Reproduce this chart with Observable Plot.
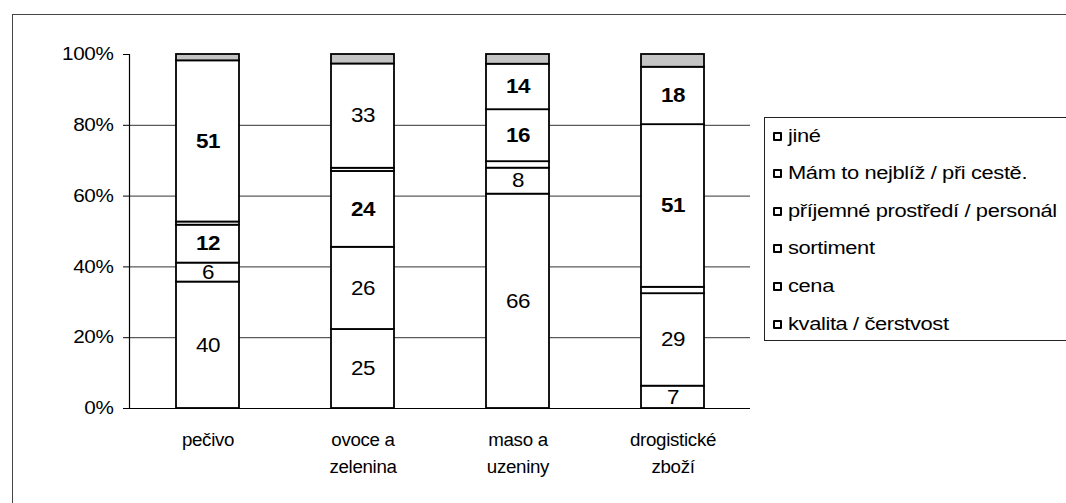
<!DOCTYPE html>
<html>
<head>
<meta charset="utf-8">
<script src="https://cdn.jsdelivr.net/npm/d3@7"></script>
<script src="https://cdn.jsdelivr.net/npm/@observablehq/plot@0.6"></script>
<style>
  html, body { margin: 0; padding: 0; background: #fff; overflow: hidden; }
  #wrap { position: relative; width: 1066px; height: 503px; overflow: hidden;
          font-family: "Liberation Sans", Arial, sans-serif; color: #000; }
  #frame { position: absolute; left: 12px; top: 14px; width: 1200px; height: 700px;
           border: 1px solid #444; box-sizing: border-box; pointer-events: none; }
  #chart { position: absolute; left: 0; top: 0; }
  #legend { position: absolute; left: 764px; top: 117px; width: 400px; height: 224px;
            border: 1px solid #222; box-sizing: border-box; background: #fff; }
  .item { position: absolute; left: 8px; height: 20px; display: flex; align-items: center;
          white-space: nowrap; font-size: 17.5px; letter-spacing: -0.3px; }
  .swatch { width: 9px; height: 9px; border: 2px solid #000; border-radius: 1px;
            box-sizing: border-box; background: #fff; margin-right: 6px; flex: none; }
  .label { display: inline-block; transform: scaleX(1.25); transform-origin: left center; }
</style>
</head>
<body>
<div id="wrap">
  <div id="frame"></div>
  <div id="chart"></div>
  <div id="legend"></div>
</div>
<script>
// Categories on the bottom axis and their wrapped tick labels
const categories = ["pečivo", "ovoce a zelenina", "maso a uzeniny", "drogistické zboží"];
const tickLabels = ["pečivo", "ovoce a\nzelenina", "maso a\nuzeniny", "drogistické\nzboží"];

// Reasons, stacked from the bottom up
const seriesNames = [
  "kvalita / čerstvost",
  "cena",
  "sortiment",
  "příjemné prostředí / personál",
  "Mám to nejblíž / při cestě.",
  "jiné"
];

// Answer counts per category (same order as categories)
const kvalita   = [40, 25, 66, 7];
const cena      = [6, 26, 8, 29];
const sortiment = [12, 24, 2, 2];
const prostredi = [1, 1, 16, 51];
const nejbliz   = [51, 33, 14, 18];
const jine      = [2, 3, 3, 4];

const yTicks = [0, 0.2, 0.4, 0.6, 0.8, 1];
const gridTicks = [0.2, 0.4, 0.6, 0.8];

const seriesValues = [kvalita, cena, sortiment, prostredi, nejbliz, jine];

const rows = [];
categories.forEach((c, i) => {
  seriesValues.forEach((vals, j) => {
    rows.push({category: c, series: seriesNames[j], value: vals[i]});
  });
});

// Labels printed in bold
const boldKeys = new Set([
  "pečivo|sortiment", "pečivo|Mám to nejblíž / při cestě.",
  "ovoce a zelenina|sortiment",
  "maso a uzeniny|příjemné prostředí / personál", "maso a uzeniny|Mám to nejblíž / při cestě.",
  "drogistické zboží|příjemné prostředí / personál", "drogistické zboží|Mám to nejblíž / při cestě."
]);
const isBold = d => boldKeys.has(d.category + "|" + d.series);
const shown = d => d.value >= 5;

const stack = {x: "category", y: "value", z: "series", order: seriesNames, offset: "normalize"};

const chart = Plot.plot({
  width: 1066,
  height: 503,
  marginLeft: 129,
  marginRight: 316,
  marginTop: 54,
  marginBottom: 95,
  style: {fontFamily: "'Liberation Sans', Arial, sans-serif", fontSize: "18px", color: "#000", background: "transparent"},
  x: {domain: categories, paddingInner: 0.594, paddingOuter: 0.297, label: null},
  y: {domain: [0, 1], label: null},
  marks: [
    Plot.ruleY(gridTicks, {stroke: "#333", strokeWidth: 1}),
    // the small "jiné" cap is shaded grey, every other segment is white
    Plot.barY(rows, Plot.stackY({
      ...stack,
      fill: d => d.series === "jiné" ? "#c4c4c4" : "white",
      stroke: "black", strokeWidth: 1.8
    })),
    Plot.text(rows, Plot.stackY({
      ...stack,
      text: d => shown(d) && !isBold(d) ? String(d.value) : null,
      fontSize: 19.5, fill: "black"
    })),
    Plot.text(rows, Plot.stackY({
      ...stack,
      text: d => shown(d) && isBold(d) ? String(d.value) : null,
      fontSize: 19.5, fontWeight: "bold", fill: "black"
    })),
    Plot.ruleY([0], {stroke: "black", strokeWidth: 1.2}),
    Plot.frame({anchor: "left", stroke: "black", strokeWidth: 1.2}),
    Plot.axisY({ticks: yTicks, tickFormat: d => Math.round(d * 100) + "%", tickSize: 6, tickPadding: 10, fontSize: 18, label: null}),
    Plot.axisX({tickSize: 0, tickPadding: 18, fontSize: 18, lineHeight: 1.5, label: null,
                tickFormat: d => tickLabels[categories.indexOf(d)]})
  ]
});

document.getElementById("chart").appendChild(chart);

// Widen the glyphs around each label's anchor (category labels a little less)
chart.querySelectorAll("text").forEach(t => {
  const g = t.closest("g[aria-label]");
  const role = g ? g.getAttribute("aria-label") : "";
  const k = role.startsWith("x-axis") ? 1.04 : 1.15;
  const tr = t.getAttribute("transform");
  if (tr) {
    t.setAttribute("transform", tr + ` scale(${k},1)`);
  } else {
    const x = +t.getAttribute("x") || 0, y = +t.getAttribute("y") || 0;
    t.removeAttribute("x"); t.removeAttribute("y");
    t.setAttribute("transform", `translate(${x},${y}) scale(${k},1)`);
  }
  t.setAttribute("letter-spacing", "-0.3");
});

// Legend, listed top-down in reverse stacking order
const legend = document.getElementById("legend");
seriesNames.slice().reverse().forEach((name, i) => {
  const item = document.createElement("div");
  item.className = "item";
  item.style.top = (19 + i * 37.6 - 10 - 1) + "px";
  item.innerHTML = `<span class="swatch"></span><span class="label"></span>`;
  item.querySelector(".label").textContent = name;
  legend.appendChild(item);
});
</script>
</body>
</html>
